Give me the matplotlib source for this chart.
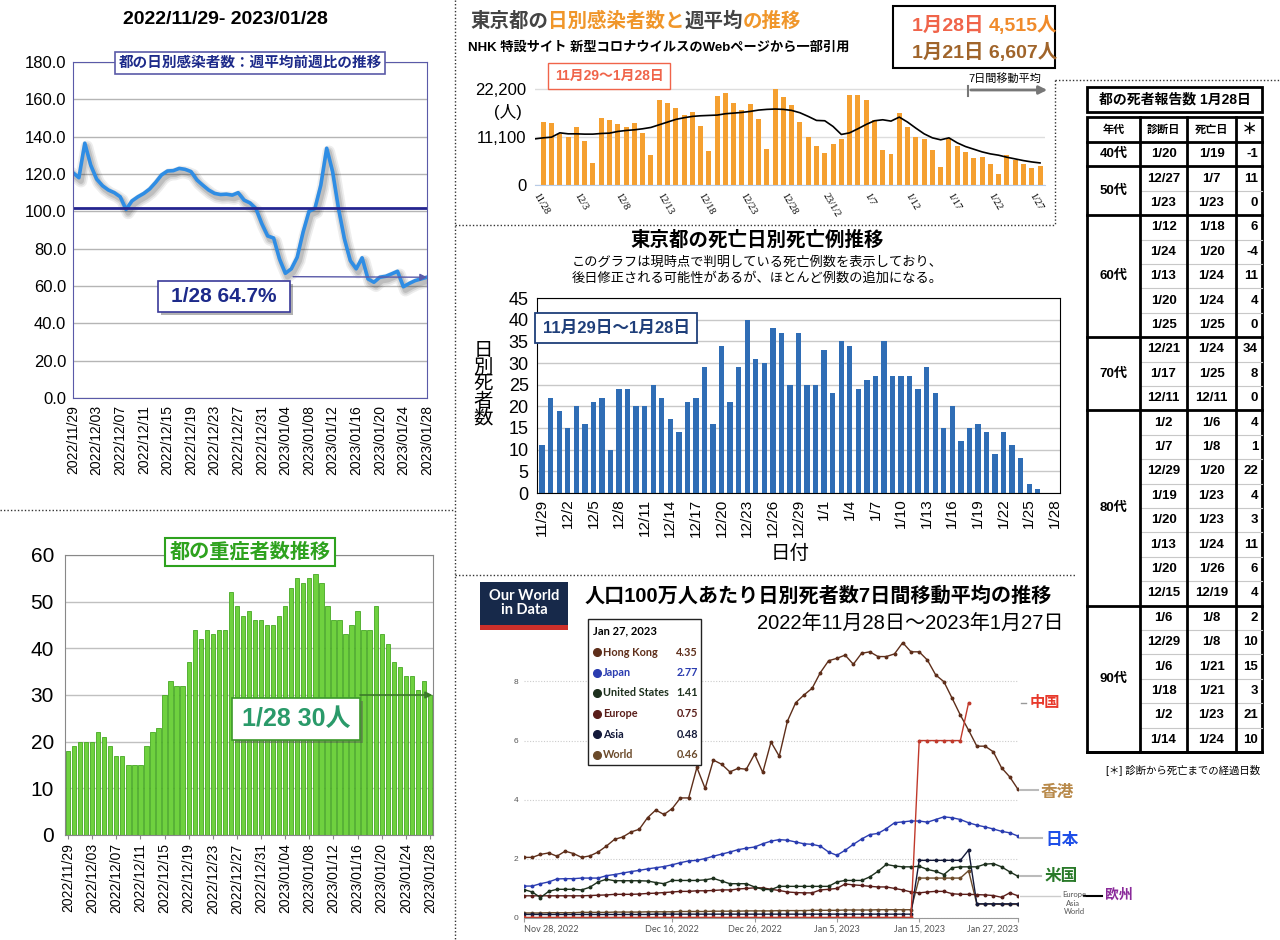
import numpy as np
import pandas as pd
import matplotlib
matplotlib.use('Agg')
import matplotlib.pyplot as plt
import matplotlib.patheffects as pe
from matplotlib.patches import Rectangle, FancyArrowPatch

plt.rcParams['font.family'] = ['Liberation Sans', 'Noto Sans CJK JP', 'DejaVu Sans']

W, H = 1280, 940

# ---------------- data ----------------
days = pd.date_range('2022-11-29', '2023-01-28')   # 61 days
day_labels = [d.strftime('%Y/%m/%d') for d in days]
md_labels = [f'{d.month}/{d.day}' for d in days]

# 週平均前週比 (%)
week_ratio = [120.7, 118.0, 136.5, 124.8, 117.3, 113.7, 111.4, 110.0, 107.8, 101.0,
              105.6, 107.8, 109.6, 112.0, 115.5, 119.5, 121.6, 121.8, 123.0, 122.5,
              121.3, 116.8, 114.0, 111.4, 109.6, 109.0, 109.2, 108.7, 110.0, 106.0,
              104.5, 101.5, 93.4, 86.8, 85.7, 74.5, 66.8, 69.2, 75.4, 88.9,
              100.0, 101.5, 114.0, 133.8, 121.3, 101.5, 85.3, 73.6, 69.2, 75.1,
              63.8, 62.0, 64.7, 65.2, 66.5, 67.9, 59.6, 61.4, 62.9, 63.8, 64.7]

# 重症者数
severe = [18, 19, 20, 20, 20, 22, 21, 19, 17, 17,
          15, 15, 15, 19, 22, 23, 30, 33, 32, 32,
          37, 44, 42, 44, 43, 44, 44, 52, 49, 47,
          48, 46, 46, 45, 45, 47, 49, 53, 55, 54,
          55, 56, 54, 49, 46, 46, 43, 45, 48, 44,
          44, 49, 43, 41, 37, 36, 34, 34, 31, 33, 30]

# NHK 日別感染者数 (11/29 - 1/28) と 7日間移動平均 (11/28 - 1/28)
nhk_cases = [14600, 14280, 11880, 11250, 13350, 10320, 5200, 15520, 14980, 14130,
             13500, 14440, 12030, 6990, 19790, 18940, 17780, 16150, 17000, 13660,
             7840, 20650, 21270, 18940, 17390, 18790, 15370, 8300, 22200, 20340,
             18470, 14520, 11100, 9000, 7530, 9470, 10560, 20880, 20880, 19640,
             14980, 8150, 7300, 16690, 13500, 11250, 10710, 8150, 4270, 10790,
             9000, 7610, 6370, 6607, 4890, 2480, 7060, 5820, 4890, 4040, 4515]
nhk_avg = [10700, 10940, 11100, 12100, 11870, 11870, 11800, 11800, 11950, 12030,
           12420, 12650, 12800, 13040, 13350, 13970, 14590, 15210, 15600, 15910,
           16060, 16140, 16220, 16530, 16680, 16840, 17070, 17380, 17540, 17620,
           17540, 17300, 16760, 15910, 14980, 14900, 13580, 11720, 12100, 13040,
           14050, 14900, 15130, 14820, 15750, 14590, 13190, 11870, 10940, 10480,
           10940, 9780, 8920, 8300, 7680, 7220, 6910, 6440, 6050, 5660, 5350, 5120]
nhk_tick_labels = ['11/28', '12/3', '12/8', '12/13', '12/18', '12/23', '12/28',
                   '23/1/2', '1/7', '1/12', '1/17', '1/22', '1/27']

# 死亡日別死亡例
deaths = [11, 22, 19, 15, 20, 16, 21, 22, 10, 24,
          24, 20, 20, 25, 22, 17, 14, 21, 22, 29,
          16, 34, 21, 29, 40, 31, 30, 38, 37, 25,
          37, 25, 25, 33, 23, 35, 34, 24, 26, 27,
          35, 27, 27, 27, 24, 29, 23, 15, 20, 12,
          15, 16, 14, 9, 14, 11, 8, 2, 1, 0, 0]

# Our World in Data: 人口100万人あたり日別死者数 7日移動平均 (11/28 - 1/27)
nan = np.nan
owid_hk = [2.05, 2.05, 2.15, 2.2, 2.09, 2.26, 2.18, 2.05, 2.1, 2.23,
           2.43, 2.66, 2.74, 2.91, 3.0, 3.39, 3.65, 3.5, 3.7, 4.06,
           4.06, 5.09, 4.38, 5.34, 5.2, 4.94, 5.06, 5.03, 5.54, 4.92,
           5.95, 5.47, 6.66, 7.28, 7.54, 7.77, 8.3, 8.7, 8.78, 8.89,
           8.58, 8.95, 9.0, 8.84, 8.84, 8.93, 9.31, 9.0, 9.0, 8.72,
           8.22, 7.99, 7.43, 6.86, 6.35, 5.81, 5.81, 5.62, 5.08, 4.77, 4.35]
owid_jp = [1.08, 1.08, 1.16, 1.22, 1.32, 1.33, 1.33, 1.35, 1.35, 1.35,
           1.43, 1.47, 1.52, 1.57, 1.61, 1.66, 1.70, 1.74, 1.80, 1.87,
           1.93, 1.95, 2.01, 2.09, 2.16, 2.23, 2.31, 2.36, 2.40, 2.51,
           2.60, 2.65, 2.63, 2.57, 2.51, 2.49, 2.43, 2.23, 2.12, 2.29,
           2.49, 2.67, 2.82, 2.86, 3.02, 3.22, 3.25, 3.28, 3.28, 3.24,
           3.33, 3.42, 3.39, 3.33, 3.22, 3.14, 3.08, 3.01, 2.93, 2.88, 2.77]
owid_us = [0.96, 0.88, 0.69, 0.90, 0.97, 0.97, 0.97, 0.95, 1.04, 1.22,
           1.31, 1.26, 1.26, 1.26, 1.26, 1.25, 1.20, 1.16, 1.27, 1.27,
           1.27, 1.27, 1.29, 1.34, 1.25, 1.16, 1.16, 1.16, 1.05, 0.97,
           0.96, 1.07, 1.07, 1.07, 1.07, 1.07, 1.07, 1.07, 1.22, 1.27,
           1.27, 1.27, 1.39, 1.58, 1.81, 1.76, 1.73, 1.73, 1.75, 1.64,
           1.58, 1.47, 1.70, 1.73, 1.73, 1.73, 1.82, 1.84, 1.73, 1.56, 1.41]
owid_eu = [0.75, 0.75, 0.75, 0.75, 0.75, 0.75, 0.75, 0.75, 0.76, 0.77,
           0.78, 0.80, 0.80, 0.80, 0.81, 0.83, 0.84, 0.86, 0.88, 0.90,
           0.90, 0.92, 0.92, 0.93, 0.95, 0.95, 0.98, 1.00, 1.02, 1.02,
           0.97, 0.93, 0.88, 0.86, 0.85, 0.85, 0.95, 0.97, 1.00, 1.15,
           1.12, 1.10, 1.07, 1.05, 1.05, 1.00, 0.95, 0.88, 0.85, 0.88,
           0.90, 0.90, 0.82, 0.80, 0.80, 0.79, 0.78, 0.76, 0.70, 0.85, 0.75]
owid_asia = [0.12, 0.12, 0.12, 0.12, 0.12, 0.12, 0.12, 0.12, 0.12, 0.12,
             0.12, 0.12, 0.12, 0.12, 0.12, 0.12, 0.13, 0.13, 0.13, 0.13,
             0.13, 0.13, 0.13, 0.13, 0.13, 0.13, 0.13, 0.13, 0.13, 0.13,
             0.13, 0.13, 0.13, 0.13, 0.13, 0.13, 0.13, 0.13, 0.13, 0.13,
             0.13, 0.13, 0.13, 0.13, 0.13, 0.13, 0.13, 0.13, 1.95, 1.95,
             1.95, 1.95, 1.95, 1.95, 2.30, 0.48, 0.48, 0.48, 0.48, 0.48, 0.48]
owid_world = [0.17, 0.17, 0.17, 0.18, 0.18, 0.18, 0.18, 0.19, 0.19, 0.19,
              0.19, 0.20, 0.20, 0.20, 0.20, 0.21, 0.21, 0.21, 0.21, 0.22,
              0.22, 0.22, 0.22, 0.23, 0.23, 0.23, 0.23, 0.24, 0.24, 0.24,
              0.24, 0.25, 0.25, 0.25, 0.25, 0.26, 0.26, 0.26, 0.26, 0.27,
              0.27, 0.27, 0.27, 0.28, 0.28, 0.28, 0.28, 0.28, 1.35, 1.35,
              1.35, 1.35, 1.35, 1.35, 1.60, 0.47, 0.47, 0.47, 0.46, 0.46, 0.46]
owid_cn = [0.02, 0.02, 0.02, 0.02, 0.02, 0.02, 0.02, 0.02, 0.02, 0.02,
           0.02, 0.02, 0.02, 0.02, 0.02, 0.02, 0.02, 0.02, 0.02, 0.02,
           0.02, 0.02, 0.02, 0.02, 0.02, 0.02, 0.02, 0.02, 0.02, 0.02,
           0.02, 0.02, 0.02, 0.02, 0.02, 0.02, 0.02, 0.02, 0.02, 0.02,
           0.02, 0.02, 0.02, 0.02, 0.02, 0.02, 0.02, 0.02, 6.0, 6.0,
           6.0, 6.0, 6.0, 6.0, 7.28, nan, nan, nan, nan, nan, nan]
owid_tick_pos = [0, 18, 28, 38, 48, 60]
owid_tick_labels = ['Nov 28, 2022', 'Dec 16, 2022', 'Dec 26, 2022',
                    'Jan 5, 2023', 'Jan 15, 2023', 'Jan 27, 2023']
tooltip_names = ['Hong Kong', 'Japan', 'United States', 'Europe', 'Asia', 'World']
tooltip_values = ['4.35', '2.77', '1.41', '0.75', '0.48', '0.46']

# 都の死者報告数 1月28日
age_groups = ['40代', '50代', '60代', '70代', '80代', '90代']
group_sizes = [1, 2, 5, 3, 8, 6]
diag_dates = ['1/20', '12/27', '1/23', '1/12', '1/24', '1/13', '1/20', '1/25',
              '12/21', '1/17', '12/11', '1/2', '1/7', '12/29', '1/19', '1/20',
              '1/13', '1/20', '12/15', '1/6', '12/29', '1/6', '1/18', '1/2', '1/14']
death_dates = ['1/19', '1/7', '1/23', '1/18', '1/20', '1/24', '1/24', '1/25',
               '1/24', '1/25', '12/11', '1/6', '1/8', '1/20', '1/23', '1/23',
               '1/24', '1/26', '12/19', '1/8', '1/8', '1/21', '1/21', '1/23', '1/24']
elapsed = [-1, 11, 0, 6, -4, 11, 4, 0, 34, 8, 0, 4, 1, 22, 4, 3, 11, 6, 4,
           2, 10, 15, 3, 21, 10]


def px(x0, y0, x1, y1):
    # pixel box (top-left origin) -> figure rect
    return [x0 / W, 1 - y1 / H, (x1 - x0) / W, (y1 - y0) / H]


fig = plt.figure(figsize=(12.8, 9.4), dpi=100)
fig.patch.set_facecolor('white')

# foreground layer in pixel coordinates for boxes, titles, dividers
fg = fig.add_axes([0, 0, 1, 1], zorder=10)
fg.set_xlim(0, W)
fg.set_ylim(H, 0)
fg.axis('off')
fg.patch.set_alpha(0)


def shadow_box(x0, y0, x1, y1, ec, lw=1.2):
    fg.add_patch(Rectangle((x0 + 3, y0 + 3), x1 - x0, y1 - y0, fc='#555', ec='none', alpha=0.45))
    fg.add_patch(Rectangle((x0, y0), x1 - x0, y1 - y0, fc='white', ec=ec, lw=lw))


# dividers
dot = dict(color='#333', lw=1, ls=(0, (1, 1.5)))
fg.plot([455, 455], [0, 940], **dot)
fg.plot([0, 455], [510, 510], **dot)
fg.plot([455, 1055], [225, 225], **dot)
fg.plot([1055, 1055], [80, 225], **dot)
fg.plot([1055, 1280], [80, 80], **dot)
fg.plot([455, 1075], [575, 575], **dot)

# ---------------- chart 1: 週平均前週比 ----------------
ax1 = fig.add_axes(px(73, 62, 427, 398))
x1 = np.arange(len(week_ratio))
glow = [pe.SimpleLineShadow(offset=(1.5, -2.5), shadow_color='#222', alpha=a, linewidth=w)
        for a, w in [(0.08, 9), (0.1, 6.5), (0.14, 4)]]
ax1.plot(x1, week_ratio, color='#2f8de4', lw=2.6, solid_joinstyle='round',
         path_effects=glow + [pe.Normal()])
ax1.axhline(102, color='#25258f', lw=2)
ax1.set_xlim(0, 60)
ax1.set_ylim(0, 180)
ax1.set_yticks(range(0, 181, 20))
ax1.set_yticklabels([f'{v:.1f}' for v in range(0, 181, 20)], fontsize=12)
ax1.set_xticks(x1[::4])
ax1.set_xticklabels(day_labels[::4], rotation=90, fontsize=10)
ax1.grid(axis='y', color='#b5b5b5', lw=1)
ax1.tick_params(length=0, pad=5)
for s in ax1.spines.values():
    s.set_color('#5a5aa8')
ax1.annotate('', xy=(60, 64.7), xytext=(37.3, 65),
             arrowprops=dict(arrowstyle='-|>', color='#5a5aa8', lw=1, shrinkA=0, shrinkB=0))
fg.text(225, 20, '2022/11/29- 2023/01/28', ha='center', va='center', fontsize=14, weight='bold')
fg.text(250, 63, '都の日別感染者数：週平均前週比の推移', ha='center', va='center',
        fontsize=10.5, weight='bold', color='#1d2a8a',
        bbox=dict(boxstyle='square,pad=0.25', fc='white', ec='#5a5aa8', lw=1.2))
shadow_box(158, 281, 290, 312, '#3a3a9a')
fg.text(224, 297, '1/28 64.7%', ha='center', va='center', fontsize=15, weight='bold', color='#1d2a8a')

# ---------------- chart 2: 重症者数 ----------------
ax2 = fig.add_axes(px(65, 555, 433, 835))
x2 = np.arange(len(severe))
ax2.bar(x2, severe, width=0.72, color='#6fd13f', edgecolor='#46a823', lw=0.6)
ax2.set_xlim(-0.5, 60.5)
ax2.set_ylim(0, 60)
ax2.set_yticks(range(0, 61, 10))
ax2.tick_params(axis='y', labelsize=15, length=0, pad=8)
ax2.set_xticks(x2[::4])
ax2.set_xticklabels(day_labels[::4], rotation=90, fontsize=10)
ax2.tick_params(axis='x', length=3, color='#888', pad=3)
ax2.grid(axis='y', color='#c0c0c0', lw=1)
ax2.set_axisbelow(True)
for s in ax2.spines.values():
    s.set_color('#888')
ax2.annotate('', xy=(60.4, 30), xytext=(48.4, 30),
             arrowprops=dict(arrowstyle='-|>', color='#3c7a2a', lw=1.2, shrinkA=0, shrinkB=0))
fg.text(250, 552, '都の重症者数推移', ha='center', va='center', fontsize=14.5, weight='bold',
        color='#2ea21e', bbox=dict(boxstyle='square,pad=0.2', fc='white', ec='#2ea21e', lw=1.5))
shadow_box(232, 698, 360, 740, '#3c9a2a')
fg.text(296, 719, '1/28 30人', ha='center', va='center', fontsize=18, weight='bold', color='#2a9a6a')

# ---------------- chart 3: NHK 日別感染者数 ----------------
t = fg.text(470, 31, '東京都の', fontsize=14, weight='bold', color='#444', va='bottom')
for s, c in [('日別感染者数と', '#f0962a'), ('週平均', '#444'), ('の推移', '#f0962a')]:
    t = fg.annotate(s, xy=(1, 0), xycoords=t, va='bottom', fontsize=14, weight='bold', color=c)
fg.text(468, 48, 'NHK 特設サイト 新型コロナウイルスのWebページから一部引用', fontsize=9.5,
        weight='bold', va='center')
fg.add_patch(Rectangle((893, 6), 162, 62, fc='white', ec='black', lw=1.5))
t = fg.text(912, 35, '1月28日 ', fontsize=14, weight='bold', color='#f0644a', va='bottom')
fg.annotate('4,515人', xy=(1, 0), xycoords=t, va='bottom', fontsize=14, weight='bold', color='#f08a2a')
fg.text(912, 62, '1月21日 6,607人', fontsize=14, weight='bold', color='#a0642a', va='bottom')

ax3 = fig.add_axes(px(535, 88, 1045, 185))
x3 = np.arange(1, len(nhk_cases) + 1)
ax3.bar(x3, nhk_cases, width=0.6, color='#f5a030')
ax3.plot(np.arange(len(nhk_avg)), nhk_avg, color='black', lw=1.2)
ax3.set_xlim(0, 61.6)
ax3.set_ylim(0, 22500)
ax3.set_yticks([0, 11100, 22200])
ax3.set_yticklabels(['0', '11,100', '22,200'], fontsize=12)
ax3.set_xticks(range(0, 61, 5))
ax3.set_xticklabels(nhk_tick_labels, rotation=-60, rotation_mode='anchor', ha='left',
                    va='center', fontsize=7.5, family='Liberation Serif')
ax3.tick_params(length=0, pad=6)
ax3.grid(axis='y', color='#dddddd', lw=1)
ax3.set_axisbelow(True)
for k in ['top', 'right', 'left']:
    ax3.spines[k].set_visible(False)
ax3.spines['bottom'].set_color('#b8cce8')
fg.text(508, 112, '(人)', ha='center', va='center', fontsize=12)
fg.text(609, 76, '11月29〜1月28日', ha='center', va='center', fontsize=10, weight='bold',
        color='#f0644a', bbox=dict(boxstyle='square,pad=0.45', fc='white', ec='#f0644a', lw=1))
fg.text(1005, 79, '7日間移動平均', ha='center', va='center', fontsize=8)
fg.plot([968, 968], [86, 96], color='#777', lw=1.5)
fg.add_patch(FancyArrowPatch((968, 90), (1050, 90), arrowstyle='-|>', mutation_scale=12,
                             color='#777', lw=2))

# ---------------- chart 4: 死亡日別死亡例 ----------------
fg.text(757, 240, '東京都の死亡日別死亡例推移', ha='center', va='center', fontsize=14, weight='bold')
fg.text(757, 271, 'このグラフは現時点で判明している死亡例数を表示しており、\n'
        '後日修正される可能性があるが、ほとんど例数の追加になる。',
        ha='center', va='center', fontsize=9.5, linespacing=1.35)
ax4 = fig.add_axes(px(537, 298, 1060, 493))
x4 = np.arange(len(deaths))
ax4.bar(x4, deaths, width=0.62, color='#2f6db5')
ax4.set_xlim(-0.6, 60.6)
ax4.set_ylim(0, 45)
ax4.set_yticks(range(0, 46, 5))
ax4.tick_params(axis='y', labelsize=13, length=0, pad=6)
ax4.set_xticks(x4[::3])
ax4.set_xticklabels(md_labels[::3], rotation=90, fontsize=11)
ax4.tick_params(axis='x', length=0, pad=4)
ax4.grid(axis='y', color='#c8c8c8', lw=1)
ax4.set_axisbelow(True)
for s in ax4.spines.values():
    s.set_color('black')
fg.text(483, 385, '日\n別\n死\n者\n数', ha='center', va='center', fontsize=14, linespacing=0.95)
fg.text(790, 554, '日付', ha='center', va='center', fontsize=14)
fg.text(616, 328, '11月29日〜1月28日', ha='center', va='center', fontsize=12, weight='bold',
        color='#1f3f7a', bbox=dict(boxstyle='square,pad=0.45', fc='white', ec='#1f3f7a', lw=1.3))

# ---------------- chart 5: Our World in Data ----------------
fg.add_patch(Rectangle((480, 582), 88, 48, fc='#17294a', ec='none'))
fg.add_patch(Rectangle((480, 625), 88, 5, fc='#cc2f2a', ec='none'))
fg.text(524, 603, 'Our World\nin Data', ha='center', va='center', fontsize=10.5, weight='bold',
        color='white', family='Lato', linespacing=0.95)
fg.text(585, 596, '人口100万人あたり日別死者数7日間移動平均の推移', ha='left', va='center',
        fontsize=14.5, weight='bold')
fg.text(1064, 624, '2022年11月28日〜2023年1月27日', ha='right', va='center', fontsize=14.5)

ax5 = fig.add_axes(px(524, 640, 1018, 918))
x5 = np.arange(len(owid_hk))
series = [(owid_world, '#6b4a2a'), (owid_asia, '#141a3a'), (owid_eu, '#5a1e1a'),
          (owid_us, '#1d301d'), (owid_jp, '#2a3cb0'), (owid_hk, '#5e2e1a'),
          (owid_cn, '#c0392b')]
for vals, c in series:
    ax5.plot(x5, vals, color=c, lw=1, marker='o', markersize=1.8)
ax5.set_xlim(0, 60)
ax5.set_ylim(0, 9.4)
ax5.set_yticks([0, 2, 4, 6, 8])
ax5.tick_params(axis='y', labelsize=6, length=0, pad=4, labelcolor='#555')
ax5.grid(axis='y', color='#cccccc', lw=0.8, ls=(0, (1, 1.5)))
ax5.set_xticks(owid_tick_pos)
ax5.set_xticklabels(owid_tick_labels, fontsize=6.5, color='#555', family='Lato')
for lbl, a in zip(ax5.get_xticklabels(), ['left', 'center', 'center', 'center', 'center', 'right']):
    lbl.set_ha(a)
ax5.tick_params(axis='x', length=3, color='#999', pad=2)
for k in ['top', 'right', 'left']:
    ax5.spines[k].set_visible(False)
ax5.spines['bottom'].set_color('#999')

# tooltip
fg.add_patch(Rectangle((588, 619), 113, 146, fc='white', ec='#222', lw=1))
fg.text(593, 631, 'Jan 27, 2023', fontsize=8, family='Lato', weight='bold', va='center')
tip_colors = ['#5e2e1a', '#2a3cb0', '#1d301d', '#5a1e1a', '#141a3a', '#6b4a2a']
for i, (name, val, c) in enumerate(zip(tooltip_names, tooltip_values, tip_colors)):
    yy = 652 + i * 20.5
    fg.plot([597], [yy], marker='o', markersize=5.5, color=c)
    fg.text(603, yy, name, fontsize=7.8, family='Lato', weight='bold', color=c, va='center')
    fg.text(698, yy, val, fontsize=7.8, family='Lato', weight='bold', color=c, va='center', ha='right')

# right-side labels
fg.plot([1021, 1026], [703, 703], color='#999', lw=1)
fg.text(1030, 703, '中国', fontsize=11, weight='bold', color='#e8392b', va='center')
fg.plot([1020, 1038], [790, 790], color='#bbb', lw=1.5)
fg.text(1041, 792, '香港', fontsize=12, weight='bold', color='#b8894a', va='center')
fg.plot([1020, 1042], [838, 838], color='#bbb', lw=1.5)
fg.text(1045, 840, '日本', fontsize=12, weight='bold', color='#1f4fe8', va='center')
fg.plot([1020, 1041], [876, 876], color='#bbb', lw=1.5)
fg.text(1045, 877, '米国', fontsize=12, weight='bold', color='#2a7a2a', va='center')
fg.plot([1020, 1060], [896, 896], color='#ccc', lw=1)
fg.text(1062, 895, 'Europe', fontsize=5.5, color='#555', va='center', family='Lato')
fg.text(1066, 903, 'Asia', fontsize=5.5, color='#555', va='center', family='Lato')
fg.text(1064, 911, 'World', fontsize=5.5, color='#555', va='center', family='Lato')
fg.plot([1084, 1102], [896, 896], color='black', lw=1.5)
fg.text(1105, 895, '欧州', fontsize=10, weight='bold', color='#8a2a9a', va='center')

# ---------------- table: 都の死者報告数 ----------------
cols = [1087, 1140, 1187, 1236, 1262]
top, head_bot, bottom = 117, 142, 752
row_h = (bottom - head_bot) / len(diag_dates)
fg.add_patch(Rectangle((1087, 87), 175, 25, fc='white', ec='black', lw=2))
fg.text(1174.5, 99.5, '都の死者報告数 1月28日', ha='center', va='center', fontsize=10, weight='bold')
for i, h in enumerate(['年代', '診断日', '死亡日', '＊']):
    fg.text((cols[i] + cols[i + 1]) / 2, (top + head_bot) / 2, h, ha='center', va='center',
            fontsize=8 if i < 3 else 11, weight='bold')
for i in range(len(diag_dates)):
    yc = head_bot + (i + 0.5) * row_h
    fg.text((cols[1] + cols[2]) / 2, yc, diag_dates[i], ha='center', va='center', fontsize=9.5, weight='bold')
    fg.text((cols[2] + cols[3]) / 2, yc, death_dates[i], ha='center', va='center', fontsize=9.5, weight='bold')
    fg.text(cols[4] - 4, yc, str(elapsed[i]), ha='right', va='center', fontsize=9.5, weight='bold')
    if i > 0:
        fg.plot([cols[1], cols[4]], [head_bot + i * row_h] * 2, color='#c8c8c8', lw=0.8)
start = 0
for g, n in zip(age_groups, group_sizes):
    y0 = head_bot + start * row_h
    y1 = head_bot + (start + n) * row_h
    fg.text((cols[0] + cols[1]) / 2, (y0 + y1) / 2, g, ha='center', va='center', fontsize=9.5, weight='bold')
    fg.plot([cols[0], cols[4]], [y1, y1], color='black', lw=2)
    start += n
fg.plot([cols[0], cols[4]], [head_bot, head_bot], color='black', lw=2)
fg.add_patch(Rectangle((cols[0], top), cols[4] - cols[0], bottom - top, fc='none', ec='black', lw=2))
for c in cols[1:4]:
    fg.plot([c, c], [top, bottom], color='black', lw=2)
fg.text(1183, 770, '[＊] 診断から死亡までの経過日数', ha='center', va='center', fontsize=7.5)

fig.savefig('out.png', dpi=100)
